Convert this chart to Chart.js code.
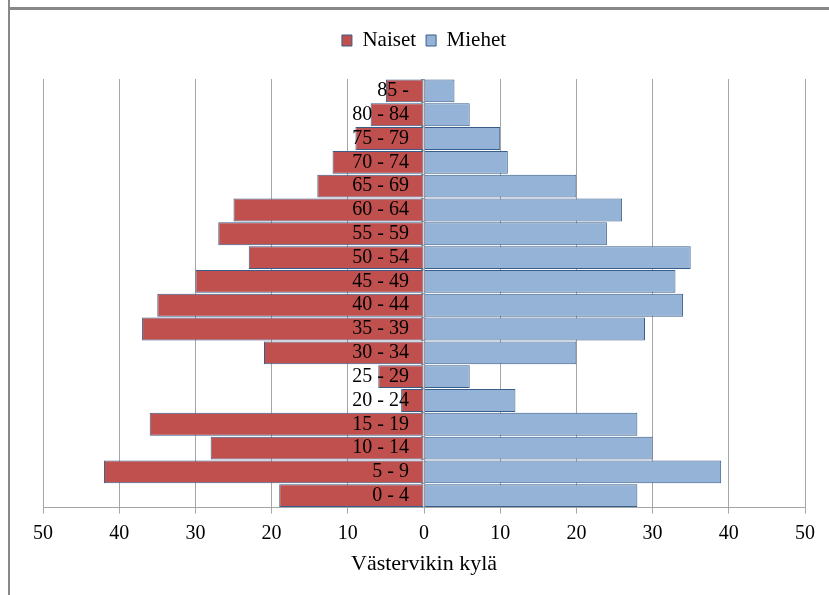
<!DOCTYPE html>
<html>
<head>
<meta charset="utf-8">
<script src="https://cdn.jsdelivr.net/npm/chart.js@4"></script>
<style>
  body { margin: 0; background: #fff; }
  #wrap { position: relative; width: 829px; height: 595px; }
  #kuva { position: absolute; left: 0; top: 0; }
  .reuna { position: absolute; background: #888; }
</style>
</head>
<body>
<div id="wrap">
  <canvas id="kuva" width="829" height="595"></canvas>
  <div class="reuna" style="left:8px; top:0; width:2px; height:595px;"></div>
  <div class="reuna" style="left:8px; top:7px; width:821px; height:3px;"></div>
</div>
<script>
// ikaryhmat alhaalta ylos
var ikaryhmat = ['0 - 4', '5 - 9', '10 - 14', '15 - 19', '20 - 24', '25 - 29', '30 - 34',
    '35 - 39', '40 - 44', '45 - 49', '50 - 54', '55 - 59', '60 - 64', '65 - 69',
    '70 - 74', '75 - 79', '80 - 84', '85 -']
var naiset = [19, 42, 28, 36, 3, 6, 21, 37, 35, 30, 23, 27, 25, 14, 12, 9, 7, 5]
var miehet = [28, 39, 30, 28, 12, 6, 20, 29, 34, 33, 35, 24, 26, 20, 11, 10, 6, 4]
var xTicks = [-50, -40, -30, -20, -10, 0, 10, 20, 30, 40, 50]
var otsikko = 'Västervikin kylä'

var serif = "'Liberation Serif', 'Times New Roman', serif"
var ctx = document.getElementById('kuva').getContext('2d')

var data = {
    labels: ikaryhmat,
    datasets: [{
        label: 'Naiset',
        data: naiset.map(function (v) { return -v }),
        backgroundColor: '#C0504D',
        borderColor: '#385D8A',
        borderWidth: 1,
        borderSkipped: false
    },
    {
        label: 'Miehet',
        data: miehet,
        backgroundColor: '#95B3D7',
        borderColor: '#385D8A',
        borderWidth: 1,
        borderSkipped: false
    }]
}

// lisaa tilaa selitteen alle
var selitevali = {
    id: 'selitevali',
    beforeInit: function (chart) {
        var fit = chart.legend.fit
        chart.legend.fit = function () {
            fit.bind(chart.legend)()
            this.height += 18
        }
    }
}

var options = {
    indexAxis: 'y',
    responsive: false,
    animation: false,
    layout: { padding: { top: 20, left: 43, right: 24, bottom: 8 } },
    datasets: { bar: { barPercentage: 1, categoryPercentage: 0.96 } },
    plugins: {
        legend: {
            position: 'top',
            labels: {
                font: { family: serif, size: 21 },
                color: '#000',
                boxWidth: 10,
                boxHeight: 11,
                padding: 10
            }
        },
        tooltip: { enabled: false }
    },
    scales: {
        x: {
            stacked: true,
            min: -50,
            max: 50,
            afterBuildTicks: function (axis) {
                axis.ticks = xTicks.map(function (v) { return { value: v } })
            },
            grid: { color: '#A6A6A6', tickLength: 6, lineWidth: 1 },
            border: { color: '#A6A6A6' },
            ticks: {
                font: { family: serif, size: 20 },
                color: '#000',
                padding: 8,
                callback: function (v) { return Math.abs(v) }
            },
            title: {
                display: true,
                text: otsikko,
                font: { family: serif, size: 22 },
                color: '#000',
                padding: { top: -3, bottom: 10 }
            }
        },
        y: {
            stacked: true,
            reverse: true,
            position: { x: 0 },
            grid: { drawOnChartArea: false, tickLength: 3, color: '#999' },
            border: { color: '#999', z: 1 },
            ticks: {
                font: { family: serif, size: 20 },
                color: '#000',
                autoSkip: false,
                z: 1,
                // tyhjaa tilaa nollaviivan ja tekstin valiin
                callback: function (v) { return ikaryhmat[v] + '   ' }
            }
        }
    }
}

var graph1 = new Chart(ctx, { type: 'bar', data: data, options: options, plugins: [selitevali] })
</script>
</body>
</html>
